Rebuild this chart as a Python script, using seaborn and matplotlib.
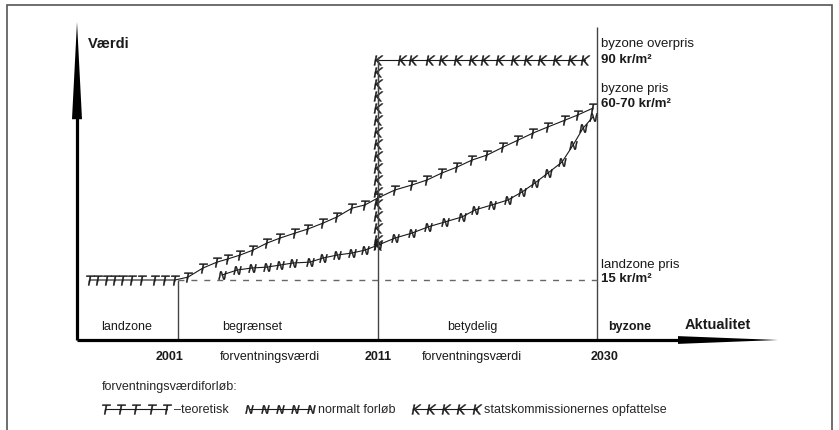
import numpy as np
import matplotlib
matplotlib.use("Agg")
import matplotlib.pyplot as plt
import seaborn as sns

# ---------------- data (schematic values) ----------------
# theoretical expectation-value course (T)
T_years = [1996.6, 1997.0, 1997.45, 1997.85, 1998.25, 1998.7, 1999.2, 1999.85, 2000.35, 2000.85,
           2001.5, 2002.25, 2002.95, 2003.5, 2004.1, 2004.75, 2005.45, 2006.1, 2006.85, 2007.5,
           2008.25, 2008.95, 2009.7, 2010.35, 2011.0, 2012.47, 2013.95, 2015.25, 2016.55, 2017.85,
           2019.16, 2020.46, 2021.85, 2023.15, 2024.45, 2025.75, 2027.22, 2028.35, 2029.65]
T_vals = [15.0, 15.0, 15.0, 15.0, 15.0, 15.0, 15.0, 15.0, 15.0, 15.0,
          16.0, 19.1, 21.1, 22.2, 23.5, 25.2, 27.6, 29.3, 31.0, 32.4,
          34.4, 36.5, 39.5, 40.6, 43.0, 45.7, 47.4, 49.1, 51.5, 53.5,
          55.9, 57.6, 60.3, 62.7, 65.1, 67.2, 69.5, 71.3, 73.6]

# normal course (N)
N_years = [2003.2, 2003.95, 2004.7, 2005.45, 2006.1, 2006.75, 2007.6, 2008.25, 2008.95, 2009.7,
           2010.35, 2011.0, 2012.47, 2013.95, 2015.34, 2016.81, 2018.29, 2019.42, 2020.89, 2022.28,
           2023.49, 2024.62, 2025.75, 2026.96, 2027.92, 2028.79, 2029.65]
N_vals = [16.7, 18.4, 19.1, 19.4, 20.1, 20.8, 21.1, 22.5, 23.5, 24.2,
          25.2, 26.9, 29.3, 31.0, 33.1, 34.8, 36.5, 38.9, 40.6, 42.3,
          45.0, 48.1, 51.5, 55.2, 61.0, 66.8, 70.6]

# state commission view (K): jump in 2011 to the over-price, then flat
K_years = [2011.0, 2011.0, 2011.0, 2011.0, 2011.0, 2011.0, 2011.0, 2011.0, 2011.0, 2011.0,
           2011.0, 2011.0, 2011.0, 2011.0, 2011.0, 2011.0, 2011.0,
           2013.08, 2014.04, 2015.51, 2016.64, 2017.94, 2019.24, 2020.28, 2021.58, 2022.88,
           2024.01, 2025.23, 2026.53, 2027.83, 2028.96]
K_vals = [26.9, 28.6, 32.7, 36.8, 40.9, 45.0, 49.1, 53.2, 57.3, 61.4,
          65.5, 69.5, 73.6, 77.7, 81.8, 85.9, 90.0,
          90.0, 90.0, 90.0, 90.0, 90.0, 90.0, 90.0, 90.0, 90.0,
          90.0, 90.0, 90.0, 90.0, 90.0]

period_years = [2001, 2011, 2030]
period_tops = [15.0, 91.0, 101.3]
landzone_price = 15.0
year_labels = ["2001", "2011", "2030"]
zone_labels = ["landzone", "begrænset", "betydelig", "byzone"]
series_labels = ["–teoretisk", "normalt forløb", "statskommissionernes opfattelse"]

# ---------------- style ----------------
sns.set_theme(style="white")
plt.rcParams["font.family"] = ["Liberation Sans", "DejaVu Sans"]
plt.rcParams["mathtext.fontset"] = "dejavusans"
INK = "#1a1a1a"

W, H = 839, 430
fig = plt.figure(figsize=(W / 100, H / 100), dpi=100)
fig.patch.set_facecolor("white")


def fx(px):
    return px / W


def fy(py):
    return 1 - py / H


AX_L, AX_R, AX_T, AX_B = 77, 790, 15, 340
ax = fig.add_axes([fx(AX_L), fy(AX_B), (AX_R - AX_L) / W, (AX_B - AX_T) / H])

# schematic (piecewise linear) time axis
KY = [1990, 2001, 2011, 2030, 2050]
KP = [-42.0, 178.0, 378.0, 597.0, 827.5]
ax.set_xscale("function", functions=(lambda v: np.interp(v, KY, KP),
                                      lambda p: np.interp(p, KP, KY)))

line_kw = dict(ax=ax, sort=False, estimator=None, color=INK, linewidth=0.8,
               markeredgewidth=0.3, markeredgecolor=INK, markerfacecolor=INK)
sns.lineplot(x=T_years, y=T_vals, marker=r"$\mathit{T}$", markersize=7,
             label=series_labels[0], **line_kw)
sns.lineplot(x=N_years, y=N_vals, marker=r"$\mathit{N}$", markersize=6,
             label=series_labels[1], **line_kw)
sns.lineplot(x=K_years, y=K_vals, marker=r"$\mathit{K}$", markersize=7,
             label=series_labels[2], **line_kw)

y_bottom, y_top = -5.45, 105.34
ax.vlines(period_years, y_bottom, period_tops, colors="#444444", linewidth=1.0)
ax.hlines(landzone_price, period_years[0], period_years[2], colors="#666666",
          linestyles=(0, (4.3, 5)), linewidth=1.0)

ax.set_xlim(1995.95, 2046.74)
ax.set_ylim(y_bottom, y_top)
ax.axis("off")

# legend at the bottom
handles, labels = ax.get_legend_handles_labels()
if ax.get_legend() is not None:
    ax.get_legend().remove()
fig.legend(handles, labels, loc="upper left", bbox_to_anchor=(fx(102), fy(381)),
           ncol=3, frameon=False, title="forventningsværdiforløb:", alignment="left",
           numpoints=5, handlelength=5.5, handletextpad=0.3, columnspacing=1.3,
           fontsize=9, title_fontsize=9, borderpad=0, borderaxespad=0, labelspacing=0.9)

# axis arrows: thick shafts plus long narrow filled heads
def axfrac_x(px):
    return (px - AX_L) / (AX_R - AX_L)


def axfrac_y(py):
    return (AX_B - py) / (AX_B - AX_T)


ax.plot([0, 0], [0, axfrac_y(105)], transform=ax.transAxes, clip_on=False,
        color="black", linewidth=2.3, solid_capstyle="butt")
ax.plot([0, axfrac_x(690)], [0, 0], transform=ax.transAxes, clip_on=False,
        color="black", linewidth=2.3, solid_capstyle="butt")
ax.annotate("", xy=(0, axfrac_y(22)), xytext=(0, axfrac_y(120)),
            xycoords="axes fraction", textcoords="axes fraction", annotation_clip=False,
            arrowprops=dict(arrowstyle="-|>,head_length=7.0,head_width=0.36", lw=0,
                            color="black", shrinkA=0, shrinkB=0, mutation_scale=10))
ax.annotate("", xy=(axfrac_x(778), 0), xytext=(axfrac_x(678), 0),
            xycoords="axes fraction", textcoords="axes fraction", annotation_clip=False,
            arrowprops=dict(arrowstyle="-|>,head_length=7.2,head_width=0.28", lw=0,
                            color="black", shrinkA=0, shrinkB=0, mutation_scale=10))


def ftext(x, y, s, **kw):
    kw.setdefault("va", "center")
    kw.setdefault("color", INK)
    fig.text(fx(x), fy(y), s, **kw)


ftext(88, 44, "Værdi", fontsize=10.5, fontweight="bold")
ftext(685, 325, "Aktualitet", fontsize=10.5, fontweight="bold")

ftext(601, 44, "byzone overpris", fontsize=9.5)
ftext(601, 60, "90 kr/m²", fontsize=9.5, fontweight="bold")
ftext(601, 89, "byzone pris", fontsize=9.5)
ftext(601, 104, "60-70 kr/m²", fontsize=9.5, fontweight="bold")
ftext(601, 265, "landzone pris", fontsize=9.5)
ftext(601, 279, "15 kr/m²", fontsize=9.5, fontweight="bold")

for xc, s, bold in zip([127, 252, 472, 630], zone_labels, [False, False, False, True]):
    ftext(xc, 327, s, fontsize=9, ha="center", fontweight="bold" if bold else "normal")

for xc, s in zip([170, 378, 605], year_labels):
    ftext(xc, 357, s, fontsize=9, ha="center", fontweight="bold")
for xc in [270, 472]:
    ftext(xc, 357, "forventningsværdi", fontsize=9, ha="center")

# scan frame
fig.add_artist(plt.Rectangle((fx(7), fy(440)), (832 - 7) / W, (440 - 5) / H,
                             transform=fig.transFigure, fill=False,
                             edgecolor="#555555", linewidth=1.2))

fig.savefig("out.png", dpi=100, facecolor="white")
